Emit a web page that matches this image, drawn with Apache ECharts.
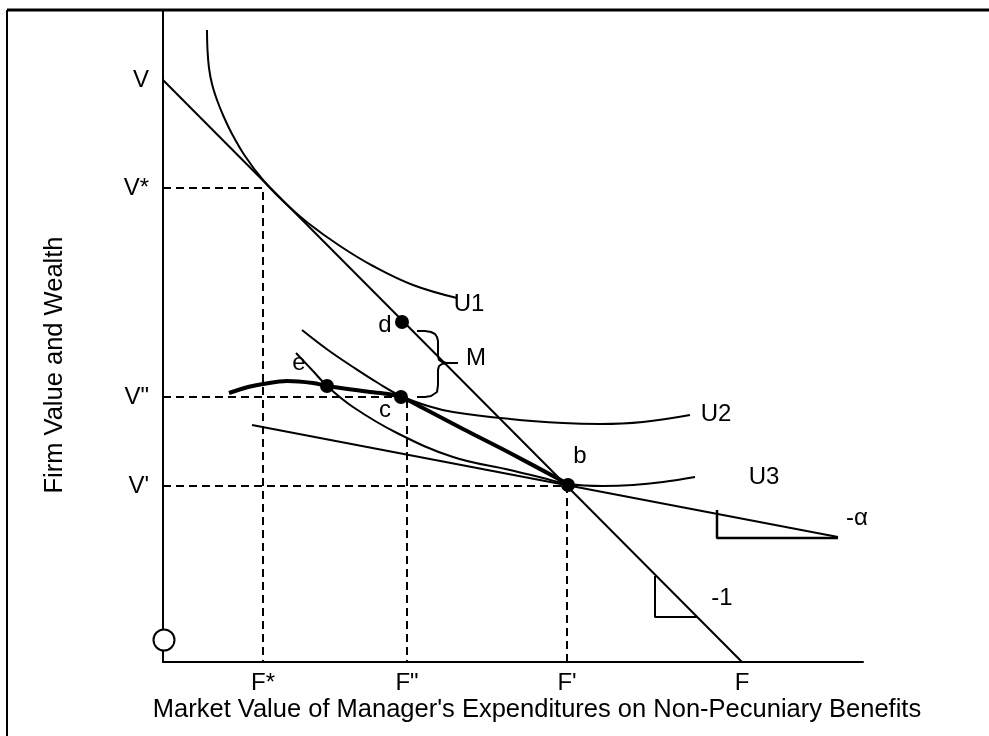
<!DOCTYPE html>
<html>
<head>
<meta charset="utf-8">
<title>Firm value and non-pecuniary benefits</title>
<script src="https://cdn.jsdelivr.net/npm/echarts@6/dist/echarts.min.js"></script>
<style>
  html, body { margin: 0; padding: 0; background: #fff; }
  #chart { width: 989px; height: 736px; }
</style>
</head>
<body>
<div id="chart"></div>
<script>
// axis ticks (value -> label)
const vTicks = [582, 474, 265, 176]
const vLabels = ['V', 'V*', 'V"', "V'"]
const fTicks = [100, 244, 404, 579]
const fLabels = ['F*', 'F"', "F'", 'F']

// lines and curves
const budgetLine = [[0, 582], [579, 0]]
const alphaLine = [[89, 237], [675, 125]]
const u1 = [[44, 632], [44.5, 612], [46, 594], [49, 578], [54, 562], [60, 547], [68, 530], [82, 506], [100, 482], [120, 461], [145, 439], [177, 416], [210, 396], [250, 377], [294, 364]]
const u2 = [[139, 332], [165, 312], [190, 295], [215, 279], [238, 266], [265, 256], [290, 250], [347, 243], [400, 239], [437, 238], [480, 240], [527, 247]]
const u3 = [[133, 309], [150, 291], [164, 276], [190, 255], [234, 229], [290, 205], [347, 192], [380, 184], [405, 178], [440, 176], [470, 177], [500, 180], [532, 185]]
const boldCurve = [[66, 269], [85, 275], [100, 278], [124, 281], [150, 279], [164, 276], [185, 273], [207, 270], [225, 268], [238, 265], [260, 254], [300, 233], [347, 209], [405, 178]]

// dashed guides
const guideStar = [[0, 474], [100, 474], [100, 0]]
const guideDbl = [[0, 265], [244, 265], [244, 0]]
const guidePrime = [[0, 176], [404, 176], [404, 0]]

// slope triangles
const triAlpha = [[554, 152], [554, 124], [675, 124]]
const triOne = [[492, 86], [492, 45], [534, 45]]

// brace M between d and c
const brace = [[254, 331], [262, 331], [268, 330], [272, 328], [274, 325], [275, 321], [275, 306], [276, 302], [279, 300], [284, 299], [295, 299], [284, 299], [279, 298], [276, 296], [275, 292], [275, 277], [274, 270], [272, 268], [268, 266], [262, 265], [254, 265]]

// points
const dots = [[239, 340], [238, 265], [164, 276], [405, 177]]
const originPt = [[1, 22]]

// text annotations
const noteText = ['d', 'c', 'b', 'e', 'U1', 'U2', 'U3', 'M', '-α', '-1']
const noteX = [222, 222, 417, 136, 306, 553, 601, 313, 694, 559]
const noteY = [337, 252, 206, 299, 358, 248, 185, 304, 144, 64]

const chart = echarts.init(document.getElementById('chart'))

const black = '#000'
const font = 'Liberation Sans, Arial, sans-serif'

const lineSeries = (data, opts = {}) => ({
  type: 'line',
  data: data,
  symbol: 'none',
  smooth: opts.smooth || false,
  silent: true,
  z: opts.z || 2,
  lineStyle: {
    color: black,
    width: opts.width || 2,
    type: opts.dash ? [8, 5] : 'solid'
  }
})

const labelFor = (ticks, labels) => (v) => {
  const i = ticks.findIndex(t => Math.abs(t - v) < 0.5)
  return i >= 0 ? labels[i] : ''
}

const option = {
  animation: false,
  backgroundColor: '#fff',
  grid: { left: 163, top: 10, width: 700, height: 652 },
  xAxis: {
    type: 'value',
    min: 0,
    max: 700,
    splitLine: { show: false },
    axisTick: { show: false },
    axisLine: { onZero: false, lineStyle: { color: black, width: 2 } },
    axisLabel: {
      customValues: fTicks,
      formatter: labelFor(fTicks, fLabels),
      color: black,
      fontSize: 24,
      fontFamily: font,
      margin: 9
    }
  },
  yAxis: {
    type: 'value',
    min: 0,
    max: 652,
    splitLine: { show: false },
    axisTick: { show: false },
    axisLine: { onZero: false, lineStyle: { color: black, width: 2 } },
    axisLabel: {
      customValues: vTicks,
      formatter: labelFor(vTicks, vLabels),
      color: black,
      fontSize: 24,
      fontFamily: font,
      margin: 14
    }
  },
  graphic: [
    { type: 'line', shape: { x1: 7, y1: 10, x2: 989, y2: 10 }, style: { stroke: black, lineWidth: 3 } },
    { type: 'line', shape: { x1: 7, y1: 10, x2: 7, y2: 736 }, style: { stroke: black, lineWidth: 2 } },
    {
      type: 'text', x: 537, y: 710,
      style: { text: "Market Value of Manager's Expenditures on Non-Pecuniary Benefits", fill: black, font: '25.5px ' + font, align: 'center', verticalAlign: 'middle' }
    },
    {
      type: 'text', x: 55, y: 365, rotation: Math.PI / 2,
      style: { text: 'Firm Value and Wealth', fill: black, font: '25.5px ' + font, align: 'center', verticalAlign: 'middle' }
    }
  ],
  series: [
    lineSeries(guideStar, { dash: true }),
    lineSeries(guideDbl, { dash: true }),
    lineSeries(guidePrime, { dash: true }),
    lineSeries(budgetLine),
    lineSeries(alphaLine),
    lineSeries(triAlpha, { width: 2.5 }),
    lineSeries(triOne, { width: 2 }),
    lineSeries(u1, { smooth: 0.4 }),
    lineSeries(u2, { smooth: 0.4 }),
    lineSeries(u3, { smooth: 0.4 }),
    lineSeries(boldCurve, { smooth: 0.3, width: 4, z: 3 }),
    lineSeries(brace, { width: 2 }),
    {
      type: 'scatter',
      data: dots,
      symbol: 'circle',
      symbolSize: 14,
      itemStyle: { color: black, opacity: 1 },
      silent: true,
      z: 5
    },
    {
      type: 'scatter',
      data: originPt,
      symbol: 'circle',
      symbolSize: 21,
      itemStyle: { color: '#fff', borderColor: black, borderWidth: 2, opacity: 1 },
      silent: true,
      z: 6
    },
    {
      type: 'scatter',
      data: noteText.map((t, i) => ({ name: t, value: [noteX[i], noteY[i]] })),
      symbolSize: 0,
      silent: true,
      z: 7,
      itemStyle: { opacity: 1 },
      label: {
        show: true,
        position: 'inside',
        formatter: '{b}',
        color: black,
        textBorderWidth: 0,
        fontSize: 24,
        fontFamily: font
      }
    }
  ]
}

chart.setOption(option)
</script>
</body>
</html>
